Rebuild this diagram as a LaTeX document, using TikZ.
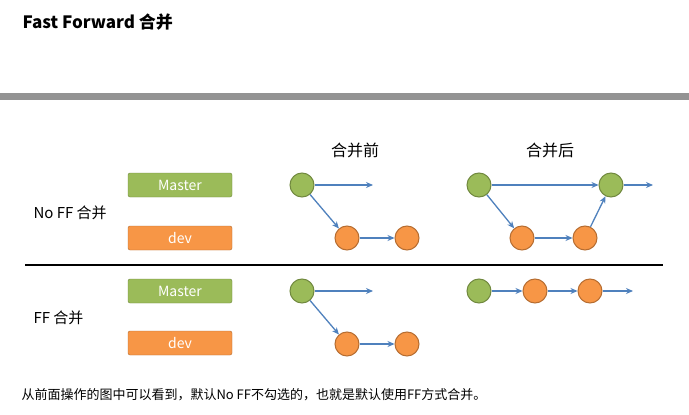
\documentclass[tikz,border=0pt]{standalone}
\usepackage{fontspec}
\setmainfont{Noto Sans CJK SC}
\usetikzlibrary{arrows.meta}
\definecolor{gr}{HTML}{9BBB59}
\definecolor{grd}{HTML}{71893F}
\definecolor{orr}{HTML}{F79646}
\definecolor{ord}{HTML}{B66D31}
\definecolor{bl}{HTML}{4F81BD}
\tikzset{
 box/.style={minimum width=104pt,minimum height=24pt,inner sep=0pt,rounded corners=2pt,text=white,font=\fontsize{14}{16}\selectfont},
 gbox/.style={box,fill=gr,draw=grd},
 obox/.style={box,fill=orr,draw=ord},
 gc/.style={circle,minimum size=24pt,inner sep=0pt,fill=gr,draw=grd,line width=1pt},
 oc/.style={circle,minimum size=24pt,inner sep=0pt,fill=orr,draw=ord,line width=1pt},
 ar/.style={draw=bl,line width=1.3pt,-{Stealth[length=7pt,width=6pt]}},
 lab/.style={font=\fontsize{15}{17}\selectfont,anchor=west}
}
\begin{document}
\begin{tikzpicture}[x=1pt,y=-1pt]
\useasboundingbox (0,0) rectangle (689,415);
\fill[white] (0,0) rectangle (689,415);
\node[anchor=west,font=\fontsize{17}{19}\selectfont\bfseries] (title) at (19,22) {Fast Forward 合并};
\fill[gray!85] (0,93) rectangle (689,100);
\node[font=\fontsize{16}{18}\selectfont] (pre) at (355,150) {合并前};
\node[font=\fontsize{16}{18}\selectfont] (post) at (550,150) {合并后};
\node[gbox] (m1) at (180,185) {Master};
\node[obox] (d1) at (180,238) {dev};
\node[gbox] (m2) at (180,291) {Master};
\node[obox] (d2) at (180,343) {dev};
\node[lab] (l1) at (30,213) {No FF 合并};
\node[lab] (l2) at (30,318) {FF 合并};
\draw[line width=1.5pt] (25,265) -- (663,265);
% before, no ff
\node[gc] (a1) at (302,185) {};
\node[oc] (a2) at (347,238) {};
\node[oc] (a3) at (407,238) {};
\coordinate (a4) at (373,185);
\draw[ar] (a1) -- (a4);
\draw[ar] (a1) -- (a2);
\draw[ar] (a2) -- (a3);
% after, no ff
\node[gc] (b1) at (479,185) {};
\node[oc] (b2) at (522,238) {};
\node[oc] (b3) at (585,238) {};
\node[gc] (b4) at (611,185) {};
\coordinate (b5) at (653,185);
\draw[ar] (b1) -- (b4);
\draw[ar] (b4) -- (b5);
\draw[ar] (b1) -- (b2);
\draw[ar] (b2) -- (b3);
\draw[ar] (b3) -- (b4);
% before, ff
\node[gc] (c1) at (302,291) {};
\node[oc] (c2) at (347,344) {};
\node[oc] (c3) at (407,344) {};
\coordinate (c4) at (373,291);
\draw[ar] (c1) -- (c4);
\draw[ar] (c1) -- (c2);
\draw[ar] (c2) -- (c3);
% after, ff
\node[gc] (e1) at (479,291) {};
\node[oc] (e2) at (535,291) {};
\node[oc] (e3) at (590,291) {};
\coordinate (e4) at (633,291);
\draw[ar] (e1) -- (e2);
\draw[ar] (e2) -- (e3);
\draw[ar] (e3) -- (e4);
\node[anchor=west,font=\fontsize{13}{15}\selectfont] (bt) at (18,395) {从前面操作的图中可以看到，默认No FF不勾选的，也就是默认使用FF方式合并。};
\end{tikzpicture}
\end{document}
